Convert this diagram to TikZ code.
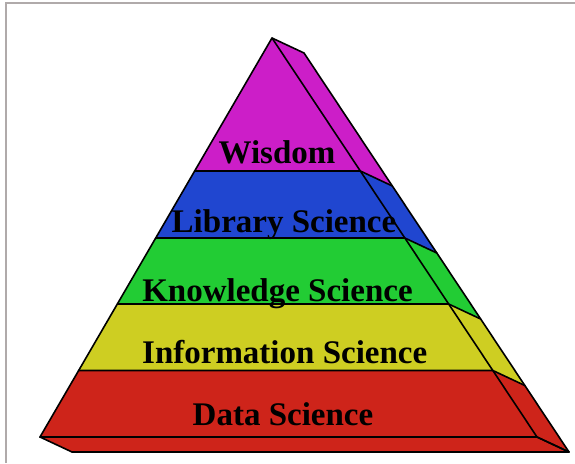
\documentclass[tikz,border=0pt]{standalone}
\usepackage{fontspec}
\setmainfont{Liberation Serif}
\usetikzlibrary{calc}
\definecolor{bandWisdom}{RGB}{204,30,200}
\definecolor{bandLibrary}{RGB}{32,70,208}
\definecolor{bandKnowledge}{RGB}{34,204,52}
\definecolor{bandInformation}{RGB}{206,206,34}
\definecolor{bandData}{RGB}{206,36,26}
\definecolor{framegray}{RGB}{176,170,170}
\begin{document}
\begin{tikzpicture}[x=1pt,y=-1pt,
  edge/.style={draw=black,line width=1.6pt,line join=round,line cap=round},
  frameline/.style={draw=framegray,line width=2pt},
  bandlabel/.style={font=\fontsize{33}{33}\selectfont\bfseries,text=black,inner sep=0pt,anchor=base}]
\useasboundingbox (0,0) rectangle (575,463);
% outer frame (top and left rule)
\draw[frameline] (6,463) -- (6,3) -- (575,3);

% front triangle and the depth shift of the extruded side
\coordinate (A) at (272,38);
\coordinate (L) at (40,437);
\coordinate (R) at (537,437);
\coordinate (L0) at (A); \coordinate (R0) at (A);
\coordinate (L5) at (L); \coordinate (R5) at (R);
\foreach \t/\n in {0.3333/1,0.5013/2,0.6667/3,0.8333/4}{
  \coordinate (L\n) at ($(A)!\t!(L)$);
  \coordinate (R\n) at ($(A)!\t!(R)$);
}
\foreach \n in {0,...,5}{
  \coordinate (S\n) at ($(R\n)+(32,15)$);
}
\coordinate (LB) at ($(L)+(32,15)$);

% colour bands: front face and side face
\foreach \a/\b/\c in {0/1/bandWisdom,1/2/bandLibrary,2/3/bandKnowledge,3/4/bandInformation,4/5/bandData}{
  \fill[\c] (L\a) -- (R\a) -- (R\b) -- (L\b) -- cycle;
  \fill[\c] (R\a) -- (S\a) -- (S\b) -- (R\b) -- cycle;
}
% base slab
\fill[bandData] (L) -- (R) -- (S5) -- (LB) -- cycle;

% outlines
\draw[edge] (A) -- (L) -- (LB) -- (S5) -- (S0) -- cycle;
\draw[edge] (A) -- (R) -- (S5);
\foreach \n in {1,...,5}{
  \draw[edge] (L\n) -- (R\n) -- (S\n);
}

% labels
\node[bandlabel] (wisdom) at (277,163) {Wisdom};
\node[bandlabel] (library) at (284,232) {Library Science};
\node[bandlabel] (knowledge) at (277.5,301) {Knowledge Science};
\node[bandlabel] (information) at (284.7,363) {Information Science};
\node[bandlabel] (data) at (283,425) {Data Science};
\end{tikzpicture}
\end{document}
